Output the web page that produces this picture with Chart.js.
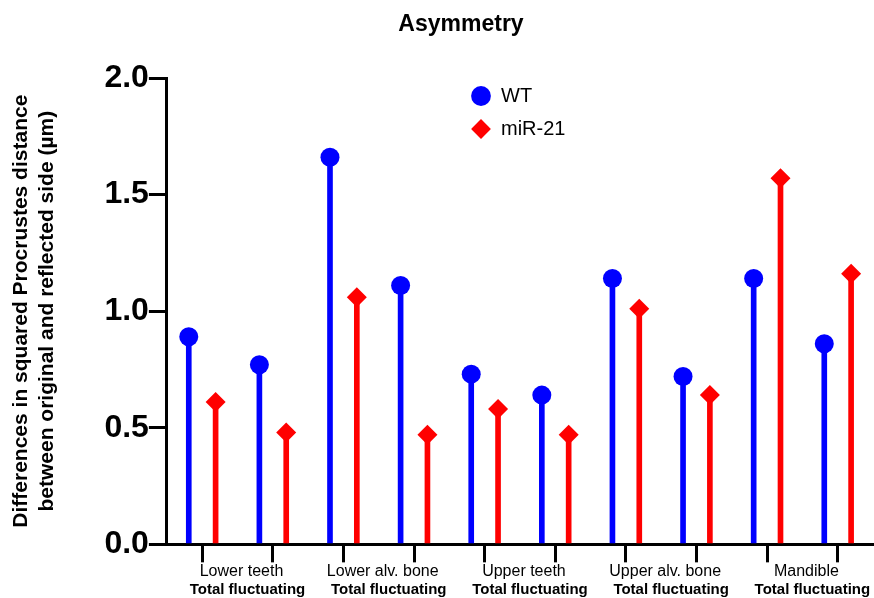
<!DOCTYPE html>
<html>
<head>
<meta charset="utf-8">
<script src="https://cdn.jsdelivr.net/npm/chart.js@4.4.1/dist/chart.umd.min.js"></script>
<style>
  html, body { margin: 0; padding: 0; background: #ffffff; }
  canvas { display: block; }
</style>
</head>
<body>
<canvas id="chart" width="874" height="598"></canvas>
<script>
// ---- data ----
const groupLabels = ['Lower teeth', 'Lower alv. bone', 'Upper teeth', 'Upper alv. bone', 'Mandible'];
const groupSubLabels = ['Total fluctuating', 'Total fluctuating', 'Total fluctuating', 'Total fluctuating', 'Total fluctuating'];
const seriesNames = ['WT', 'miR-21'];
const wtValues  = [0.89, 0.77, 1.66, 1.11, 0.73, 0.64, 1.14, 0.72, 1.14, 0.86];
const mirValues = [0.61, 0.48, 1.06, 0.47, 0.58, 0.47, 1.01, 0.64, 1.57, 1.16];
const yTickValues = [0, 0.5, 1.0, 1.5, 2.0];

// ---- styling / layout constants ----
const BLUE = '#0000ff';
const RED = '#ff0000';
const FONT = "'Liberation Sans', Arial, Helvetica, sans-serif";
const PAIR_SHIFT = 0.19; // half-distance between the two stems of a pair, in category units

Chart.defaults.font.family = FONT;
Chart.defaults.color = '#000000';

const wtPoints = wtValues.map((v, i) => ({ x: i - PAIR_SHIFT, y: v }));
const mirPoints = mirValues.map((v, i) => ({ x: i + PAIR_SHIFT, y: v }));

const placeBoxes = {
  id: 'placeBoxes',
  afterLayout(chart) {
    const t = chart.titleBlock;
    if (t) { t.left = 48; t.right = chart.width; }
    const lg = chart.legend;
    if (lg) {
      lg.left = 458; lg.right = lg.left + 220;
      lg.top = 73; lg.bottom = lg.top + 120;
    }
  }
};

new Chart(document.getElementById('chart'), {
  type: 'bar',
  data: {
    datasets: [
      {
        type: 'scatter', label: seriesNames[0], data: wtPoints,
        xAxisID: 'x', yAxisID: 'y',
        pointStyle: 'circle', pointRadius: 9.5, pointHoverRadius: 9.5,
        backgroundColor: BLUE, borderColor: BLUE, borderWidth: 0, order: 0
      },
      {
        type: 'scatter', label: seriesNames[1], data: mirPoints,
        xAxisID: 'x', yAxisID: 'y',
        pointStyle: 'rectRot', pointRadius: 10, pointHoverRadius: 10,
        backgroundColor: RED, borderColor: RED, borderWidth: 0, order: 0
      },
      {
        type: 'bar', label: seriesNames[0] + ' stem', data: wtPoints,
        xAxisID: 'x', yAxisID: 'y',
        backgroundColor: BLUE, borderWidth: 0, barThickness: 5, grouped: false, order: 1
      },
      {
        type: 'bar', label: seriesNames[1] + ' stem', data: mirPoints,
        xAxisID: 'x', yAxisID: 'y',
        backgroundColor: RED, borderWidth: 0, barThickness: 5, grouped: false, order: 1
      }
    ]
  },
  options: {
    responsive: false,
    animation: false,
    layout: { autoPadding: false, padding: { left: 0, right: 1, top: 0, bottom: 0 } },
    plugins: {
      title: {
        display: true,
        text: 'Asymmetry',
        color: '#000',
        font: { size: 23, weight: 'bold' },
        padding: { top: 11, bottom: 39.4 }
      },
      legend: {
        display: true,
        position: 'chartArea',
        fullSize: false,
        align: 'start',
        labels: {
          usePointStyle: true,
          boxWidth: 20,
          boxHeight: 14,
          padding: 13,
          color: '#000',
          font: { size: 20 },
          filter: (item) => item.datasetIndex < 2
        }
      },
      tooltip: { enabled: false }
    },
    scales: {
      x: {
        type: 'linear',
        display: false,
        min: -0.5,
        max: wtValues.length - 0.5,
        offset: false,
        grid: { display: false, drawTicks: false, tickLength: 0 },
        ticks: { display: false, padding: 0 }
      },
      xt: {
        type: 'category',
        position: 'bottom',
        weight: 0,
        labels: wtValues.map(() => ''),
        offset: true,
        grid: { display: true, offset: false, drawOnChartArea: false, drawTicks: true, tickLength: 18, color: '#000', lineWidth: 3 },
        border: { display: true, color: '#000', width: 3 },
        ticks: { display: false, padding: 0 }
      },
      xg1: {
        type: 'category',
        position: 'bottom',
        weight: 1,
        labels: groupLabels,
        offset: true,
        grid: { display: false, drawTicks: false, tickLength: 0 },
        border: { display: false },
        ticks: { color: '#000', padding: 0, labelOffset: 4, autoSkip: false, maxRotation: 0, font: { size: 16, lineHeight: 1.15 } }
      },
      xg2: {
        type: 'category',
        position: 'bottom',
        weight: 2,
        labels: groupSubLabels,
        offset: true,
        grid: { display: false, drawTicks: false, tickLength: 0 },
        border: { display: false },
        ticks: { color: '#000', padding: 0, labelOffset: 10, autoSkip: false, maxRotation: 0, font: { size: 15, weight: 'bold', lineHeight: 1.15 } }
      },
      y: {
        type: 'linear',
        position: 'left',
        min: 0,
        max: 2,
        afterBuildTicks: (scale) => { scale.ticks = yTickValues.map(v => ({ value: v })); },
        grid: { display: true, drawOnChartArea: false, drawTicks: true, tickLength: 18, color: '#000', lineWidth: 3 },
        border: { display: true, color: '#000', width: 3 },
        ticks: {
          color: '#000', padding: 0,
          font: { size: 32, weight: 'bold' },
          callback: (v) => Number(v).toFixed(1)
        },
        title: {
          display: true,
          text: ['Differences in squared Procrustes distance', 'between original and reflected side (\u00b5m)'],
          color: '#000',
          font: { size: 21, weight: 'bold', lineHeight: 1.2 },
          padding: { top: 9, bottom: 45 }
        }
      }
    }
  },
  plugins: [placeBoxes]
});
</script>
</body>
</html>
